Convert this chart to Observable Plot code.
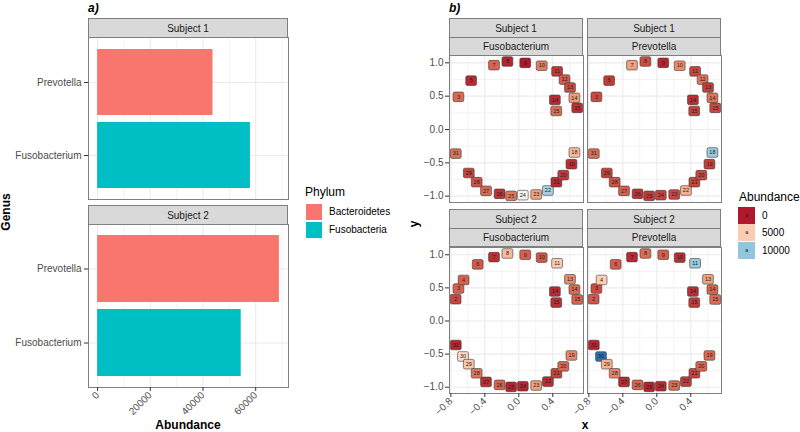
<!DOCTYPE html>
<html><head><meta charset="utf-8">
<script src="https://cdn.jsdelivr.net/npm/d3@7"></script>
<script src="https://cdn.jsdelivr.net/npm/@observablehq/plot@0.6"></script>
<style>
body{margin:0;background:#fff;}
#fig{position:relative;width:800px;height:432px;overflow:hidden;font-family:"Liberation Sans",Arial,sans-serif;background:#fff;}
#fig svg{position:absolute;}
.t{position:absolute;white-space:nowrap;}
.strip{position:absolute;background:#d9d9d9;border:1px solid #7f7f7f;box-sizing:border-box;color:#1a1a1a;font-size:10px;display:flex;align-items:center;justify-content:center;}
</style></head><body><div id="fig"></div>
<script>
// ---------- Panel a data ----------
const genera = ["Prevotella", "Fusobacterium"];
const phyla = ["Bacteroidetes", "Fusobacteria"];
const phylumColors = ["#F8766D", "#00BFC4"];
const barSubject = ["Subject 1", "Subject 1", "Subject 2", "Subject 2"];
const barGenus = ["Prevotella", "Fusobacterium", "Prevotella", "Fusobacterium"];
const barPhylum = ["Bacteroidetes", "Fusobacteria", "Bacteroidetes", "Fusobacteria"];
const barAbundance = [43800, 58000, 69000, 54500];
const barTicks = [0, 20000, 40000, 60000];
const barMinorTicks = [10000, 30000, 50000, 70000];

// ---------- Panel b data ----------
const siteLabel = ["2","3","4","5","6","7","8","9","10","11","12","13","14","15","14","15",
                   "31","30","29","28","27","26","25","24","23","22","21","20","19","18"];
const siteX = [-0.744,-0.711,-0.65,-0.561,-0.484,-0.292,-0.134,0.076,0.27,0.451,0.539,0.603,0.655,0.688,0.425,0.441,
               -0.742,-0.657,-0.589,-0.496,-0.386,-0.226,-0.09,0.047,0.205,0.343,0.443,0.524,0.62,0.655];
const siteY = [0.33,0.49,0.62,0.733,0.855,0.965,1.02,1.0,0.957,0.872,0.748,0.63,0.475,0.325,0.445,0.278,
               -0.362,-0.536,-0.652,-0.79,-0.92,-0.965,-0.995,-0.985,-0.975,-0.915,-0.79,-0.685,-0.52,-0.345];
// abundance per site (null = site not present)
const s1Fuso = [null,1900,null,300,null,1800,200,0,2400,600,1600,1100,3200,400,300,2000,
                2100,null,900,1300,1900,500,2300,7000,3400,9500,300,700,400,4300];
const s1Prev = [null,1100,null,700,null,3400,1200,200,2800,1000,2200,800,2200,1000,400,800,
                2000,null,800,1300,1700,500,700,900,1000,3900,1000,1000,800,9800];
const s2Fuso = [1000,1700,1700,null,1500,400,4300,1700,1500,5000,null,2800,1900,1800,300,400,
                200,5600,4700,2200,400,1800,200,200,3300,400,900,1900,2700,null];
const s2Prev = [1500,1100,5100,null,1600,300,2000,1600,400,9800,null,3400,1800,2000,400,700,
                200,13000,4000,2600,300,1800,200,300,2000,800,900,1800,1900,null];
const panelSubject = ["Subject 1", "Subject 1", "Subject 2", "Subject 2"];
const panelGenus = ["Fusobacterium", "Prevotella", "Fusobacterium", "Prevotella"];
const xTicks = [-0.8, -0.4, 0, 0.4];
const xMinor = [-0.6, -0.2, 0.2, 0.6];
const yTicks = [-1, -0.5, 0, 0.5, 1];
const yMinor = [-0.75, -0.25, 0.25, 0.75];
const abundanceStops = [0, 1700, 3500, 5600, 7200, 8600, 10000, 11700, 13300, 15000];
const abundanceColors = ["#b2182b","#d6604d","#f4a582","#fddbc7","#f7f7f7","#d1e5f0","#92c5de","#4393c3","#2166ac","#053061"];
const legendValues = [0, 5000, 10000];

// ---------- helpers ----------
const fig = document.getElementById("fig");
const FONT = "'Liberation Sans', Arial, sans-serif";
const baseStyle = {fontFamily: FONT, fontSize: "10px", background: "transparent", overflow: "visible", color: "#4d4d4d"};
function put(el, left, top) { el.style.left = left + "px"; el.style.top = top + "px"; fig.appendChild(el); return el; }
function text(str, left, top, css) {
  const d = document.createElement("div"); d.className = "t"; d.textContent = str;
  Object.assign(d.style, css || {}); return put(d, left, top);
}
function strip(str, left, top, w, h) {
  const d = document.createElement("div"); d.className = "strip"; d.textContent = str;
  d.style.width = w + "px"; d.style.height = h + "px"; return put(d, left, top);
}
const colorOpts = {type: "linear", domain: abundanceStops, range: abundanceColors, interpolate: "lab"};

// rounded label box symbol
const labelBox = {
  draw(ctx) {
    const w = 5.4, h = 4.8, r = 1.6;
    ctx.moveTo(-w + r, -h); ctx.lineTo(w - r, -h); ctx.arcTo(w, -h, w, -h + r, r);
    ctx.lineTo(w, h - r); ctx.arcTo(w, h, w - r, h, r);
    ctx.lineTo(-w + r, h); ctx.arcTo(-w, h, -w, h - r, r);
    ctx.lineTo(-w, -h + r); ctx.arcTo(-w, -h, -w + r, -h, r); ctx.closePath();
  }
};

// ---------- panel a ----------
function barPlot(subject, showX) {
  const rows = barSubject.map((s, i) => ({subject: s, genus: barGenus[i], phylum: barPhylum[i], abundance: barAbundance[i]}))
    .filter(d => d.subject === subject);
  return Plot.plot({
    width: 291, height: showX ? 163 + 42 : 162,
    marginLeft: 88, marginRight: 3, marginTop: 0, marginBottom: showX ? 42 : 0,
    style: baseStyle,
    x: showX ? {domain: [-3450, 72450]} : {domain: [-3450, 72450], axis: null},
    y: {domain: genera, paddingInner: 0.1, paddingOuter: 0.15},
    color: {domain: phyla, range: phylumColors},
    marks: [
      Plot.gridX(barMinorTicks, {stroke: "#ebebeb", strokeOpacity: 1, strokeWidth: 0.6}),
      Plot.gridX(barTicks, {stroke: "#ebebeb", strokeOpacity: 1, strokeWidth: 1.1}),
      Plot.gridY(genera, {stroke: "#ebebeb", strokeOpacity: 1, strokeWidth: 1.1}),
      Plot.barX(rows, {x: "abundance", y: "genus", fill: "phylum"}),
      Plot.frame({stroke: "#7f7f7f", strokeWidth: 1}),
      Plot.axisY({tickSize: 4, tickPadding: 3, fill: "#4d4d4d", stroke: "#333", label: null}),
      showX ? Plot.axisX(barTicks, {tickSize: 4, tickPadding: 2, tickRotate: -45, tickFormat: "d", fill: "#4d4d4d", stroke: "#333", label: null}) : null
    ]
  });
}
put(barPlot("Subject 1", false), 0, 37);
put(barPlot("Subject 2", true), 0, 224);
strip("Subject 1", 88, 18, 200, 20);
strip("Subject 2", 88, 205, 200, 20);
text("a)", 88, 2, {fontSize: "12px", fontWeight: "bold", fontStyle: "italic", lineHeight: "12px", color: "#000"});
text("Abundance", 138, 419, {fontSize: "12px", fontWeight: "bold", lineHeight: "12px", width: "100px", textAlign: "center", color: "#000"});
text("Genus", -24, 206, {fontSize: "12px", fontWeight: "bold", lineHeight: "12px", width: "60px", textAlign: "center", transform: "rotate(-90deg)", color: "#000"});
// Phylum legend
text("Phylum", 305, 185.6, {fontSize: "12px", lineHeight: "12px", color: "#000"});
phyla.forEach((p, i) => {
  const k = document.createElement("div"); k.className = "t";
  Object.assign(k.style, {width: "16px", height: "16px", background: phylumColors[i]});
  put(k, 305.7, 204 + i * 18);
  text(p, 329, 204 + i * 18, {fontSize: "10px", lineHeight: "16px", color: "#000"});
});

// ---------- panel b ----------
function circlePlot(vals, showY, showX) {
  const rows = siteLabel.map((l, i) => ({label: l, x: siteX[i], y: siteY[i], abundance: vals[i]}))
    .filter(d => d.abundance != null);
  const ml = showY ? 40 : 0, mb = showX ? 40 : 0;
  const h = showX ? 146 : 147;
  const marks = [
    Plot.gridX(xMinor, {stroke: "#ebebeb", strokeOpacity: 1, strokeWidth: 0.6}),
    Plot.gridY(yMinor, {stroke: "#ebebeb", strokeOpacity: 1, strokeWidth: 0.6}),
    Plot.gridX(xTicks, {stroke: "#ebebeb", strokeOpacity: 1, strokeWidth: 1.1}),
    Plot.gridY(yTicks, {stroke: "#ebebeb", strokeOpacity: 1, strokeWidth: 1.1})
  ];
  rows.forEach(d => {
    marks.push(Plot.dot([d], {x: "x", y: "y", symbol: labelBox, r: 5, fill: "abundance", stroke: "#3a3a3a", strokeWidth: 0.6, clip: true}));
    marks.push(Plot.text([d], {x: "x", y: "y", text: "label", fontSize: 5.5, fill: "#222", clip: true}));
  });
  marks.push(Plot.frame({stroke: "#7f7f7f", strokeWidth: 1}));
  if (showY) marks.push(Plot.axisY(yTicks, {tickSize: 4, tickPadding: 2, tickFormat: ".1f", fill: "#4d4d4d", stroke: "#333", label: null}));
  if (showX) marks.push(Plot.axisX(xTicks, {tickSize: 4, tickPadding: 2, tickRotate: -45, tickFormat: ".1f", fill: "#4d4d4d", stroke: "#333", label: null}));
  return Plot.plot({
    width: ml + 134, height: h + mb,
    marginLeft: ml, marginRight: 0, marginTop: 0, marginBottom: mb,
    style: baseStyle,
    x: showX ? {domain: [-0.816, 0.762]} : {domain: [-0.816, 0.762], axis: null},
    y: showY ? {domain: [-1.095, 1.11]} : {domain: [-1.095, 1.11], axis: null},
    color: colorOpts,
    marks
  });
}
const panelVals = [s1Fuso, s1Prev, s2Fuso, s2Prev];
panelVals.forEach((vals, i) => {
  const col = i % 2, row = Math.floor(i / 2);
  const svg = circlePlot(vals, col === 0, row === 1);
  put(svg, col === 0 ? 409 : 587, row === 0 ? 55 : 247);
  const sx = col === 0 ? 449 : 587;
  const sy = row === 0 ? 18 : 209;
  strip(panelSubject[i], sx, sy, 134, 20);
  strip(panelGenus[i], sx, sy + 19, 134, 19);
});
text("b)", 449, 2, {fontSize: "12px", fontWeight: "bold", fontStyle: "italic", lineHeight: "12px", color: "#000"});
text("x", 535, 419, {fontSize: "12px", fontWeight: "bold", lineHeight: "12px", width: "100px", textAlign: "center", color: "#000"});
text("y", 384, 218, {fontSize: "12px", fontWeight: "bold", lineHeight: "12px", width: "60px", textAlign: "center", transform: "rotate(-90deg)", color: "#000"});
// Abundance legend
const cs = Plot.scale({color: colorOpts});
text("Abundance", 739, 191, {fontSize: "12px", lineHeight: "12px", color: "#000"});
legendValues.forEach((v, i) => {
  const k = document.createElement("div"); k.className = "t";
  Object.assign(k.style, {width: "17px", height: "17px", background: cs.apply(v), fontSize: "5.5px", lineHeight: "17px", textAlign: "center", color: "#222"});
  k.textContent = "a";
  put(k, 738.3, 206.5 + i * 17.5);
  text(String(v), 762, 206.5 + i * 17.5, {fontSize: "10px", lineHeight: "17px", color: "#000"});
});
</script></body></html>
